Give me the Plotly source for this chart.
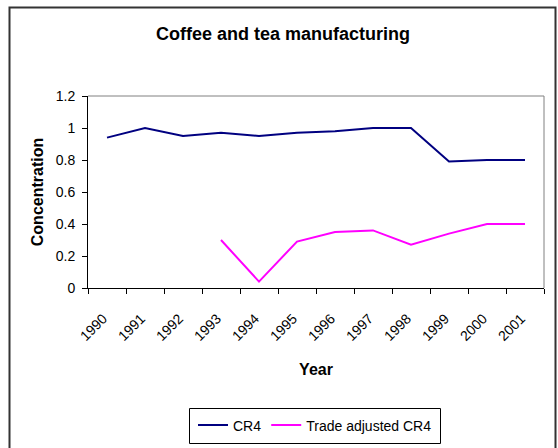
import plotly.graph_objects as go

# Four-firm concentration ratios, coffee and tea manufacturing
years = ["1990", "1991", "1992", "1993", "1994", "1995",
         "1996", "1997", "1998", "1999", "2000", "2001"]
cr4 = [0.94, 1.00, 0.95, 0.97, 0.95, 0.97, 0.98, 1.00, 1.00, 0.79, 0.80, 0.80]
trade_adj_cr4 = [None, None, None, 0.30, 0.04, 0.29, 0.35, 0.36, 0.27, 0.34, 0.40, 0.40]

W, H = 558, 448
L, R, T, B = 88, 14, 96, 160
pw, ph = W - L - R, H - T - B


def px(x):
    return (x - L) / pw


def py(y):
    return (H - B - y) / ph


font = "Liberation Sans, Arial, sans-serif"

fig = go.Figure()
fig.add_trace(go.Scatter(x=years, y=cr4, mode="lines", name="CR4",
                         line=dict(color="#000080", width=2)))
fig.add_trace(go.Scatter(x=years, y=trade_adj_cr4, mode="lines",
                         name="Trade adjusted CR4",
                         line=dict(color="#FF00FF", width=2)))

fig.update_layout(
    width=W, height=H,
    margin=dict(l=L, r=R, t=T, b=B, pad=0, autoexpand=False),
    paper_bgcolor="white", plot_bgcolor="white",
    font=dict(family=font, size=12, color="black"),
    title=dict(text="<b>Coffee and tea manufacturing</b>",
               x=283 / W, xanchor="center", y=1 - 34 / H, yanchor="middle",
               font=dict(size=18, family=font)),
    xaxis=dict(
        type="category", range=[-0.5, len(years) - 0.5], automargin=False,
        tickson="boundaries", ticks="outside", ticklen=5,
        tickcolor="black", showline=True, linecolor="black", linewidth=1,
        showgrid=False, zeroline=False, tickangle=-45,
        tickfont=dict(size=14), ticklabelstandoff=16, ticklabelshift=-4,
        title=dict(text="<b>Year</b>", font=dict(size=16), standoff=20),
    ),
    yaxis=dict(
        range=[0, 1.2], dtick=0.2, ticks="outside", ticklen=5, automargin=False,
        tickcolor="black", showline=True, linecolor="black", linewidth=1,
        showgrid=False, zeroline=False, tickfont=dict(size=14),
        ticklabelstandoff=4,
        title=dict(text="<b>Concentration</b>", font=dict(size=16), standoff=8),
    ),
    legend=dict(
        orientation="h", x=px(315), xanchor="center", y=py(425.5),
        yanchor="middle", borderwidth=0, font=dict(size=14),
        bgcolor="rgba(0,0,0,0)",
    ),
    showlegend=True,
)

# plot-area frame (top and right edges), legend frame and outer chart border
fig.add_shape(type="line", xref="paper", yref="paper", x0=0, x1=1, y0=1, y1=1,
              line=dict(color="#808080", width=1))
fig.add_shape(type="line", xref="paper", yref="paper", x0=1, x1=1, y0=0, y1=1,
              line=dict(color="#808080", width=1))
fig.add_shape(type="rect", xref="paper", yref="paper",
              x0=px(189.5), x1=px(440.5), y0=py(443.5), y1=py(408.5),
              line=dict(color="black", width=1), fillcolor="rgba(0,0,0,0)")
fig.add_shape(type="rect", xref="paper", yref="paper",
              x0=px(9.5), x1=px(555.5), y0=py(452), y1=py(7.5),
              line=dict(color="#333333", width=2), fillcolor="rgba(0,0,0,0)")

fig.write_html("out.html")
